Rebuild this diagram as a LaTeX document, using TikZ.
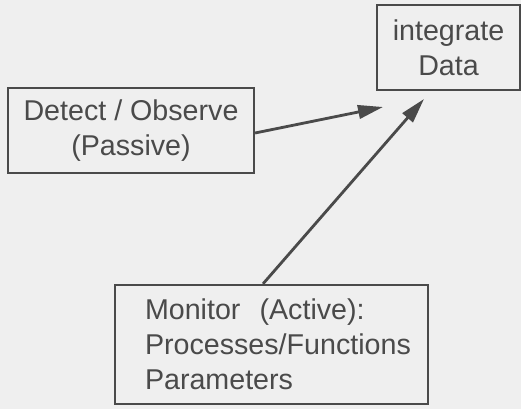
\documentclass[tikz,border=0pt]{standalone}
\usepackage{fontspec}
\setmainfont{Liberation Sans}
\usepackage{tikz}
\usetikzlibrary{arrows.meta}

\definecolor{inkgray}{HTML}{4A4A4A}
\definecolor{papergray}{HTML}{EFEFEF}

\tikzset{
    box/.style={draw=inkgray, line width=1.3pt, text=inkgray, inner sep=0pt,
        font=\fontsize{16.3}{20}\selectfont},
    feed/.style={draw=inkgray, line width=1.6pt,
        -{Triangle[length=0.5cm, width=0.27cm]}}
}

\begin{document}
\begin{tikzpicture}
            \fill[papergray] (0, 0) rectangle (10.42, 8.18);
            \useasboundingbox (0, 0) rectangle (10.42, 8.18);
            \node[box, minimum width=2.86cm, minimum height=1.70cm, align=center] (data) at (8.97, 7.23) {integrate\\Data};
            \node[box, minimum width=4.92cm, minimum height=1.70cm, align=center] (detect) at (2.62, 5.57) {Detect / Observe\\(Passive)};
            \node[box, minimum width=6.26cm, minimum height=2.38cm, text width=5.06cm, align=left] (monitor) at (5.43, 1.29) {Monitor\ \ (Active):\\Processes/Functions\\Parameters};
            \coordinate (dataInA) at (7.66, 6.04);
            \coordinate (dataInB) at (8.48, 6.20);
            \draw [feed] ([yshift=-0.05cm]detect.east) -- (dataInA);
            \draw [feed] ([xshift=-0.17cm]monitor.north) -- (dataInB);
        \end{tikzpicture}
\end{document}
